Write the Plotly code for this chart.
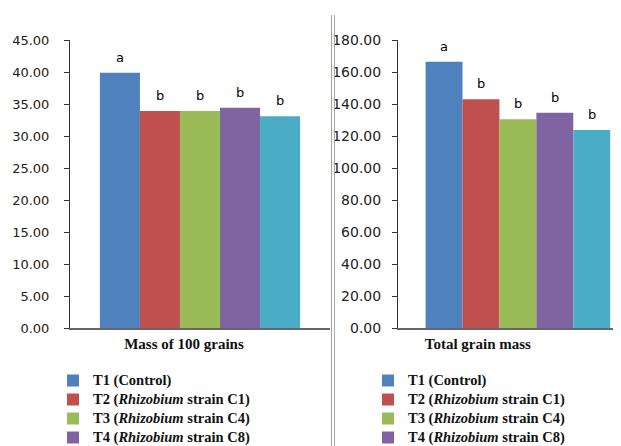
import plotly.graph_objects as go

# ---- data ----
treatments = [
    "T1 (Control)",
    "T2 (<i>Rhizobium</i> strain C1)",
    "T3 (<i>Rhizobium</i> strain C4)",
    "T4 (<i>Rhizobium</i> strain C8)",
    "T5",
]
mass_100 = [39.9, 33.9, 33.9, 34.4, 33.1]
total_mass = [166.4, 142.9, 130.4, 134.6, 123.8]
letters_100 = ["a", "b", "b", "b", "b"]
letters_total = ["a", "b", "b", "b", "b"]
cat_left = ["Mass of 100 grains"]
cat_right = ["Total grain mass"]
colors = ["#4F81BD", "#C0504D", "#9BBB59", "#8064A2", "#4BACC6"]

# page is 621x446; the html body has an 8px margin, so the figure is 613x438
OFF = 8
W, H = 621 - OFF, 446 - OFF
BARGAP = 0.23

def px_x(p):
    return (p - OFF) / W

def px_y(p):
    return 1 - (p - OFF) / H

def leg_label(t):
    return "<span style='font-size:14.5px'>" + t + "</span>"

fig = go.Figure()
for i, name in enumerate(treatments):
    show = i < 4
    fig.add_trace(go.Bar(x=cat_left, y=[mass_100[i]], name=leg_label(name), marker_color=colors[i],
                         marker_line_width=0, xaxis="x", yaxis="y",
                         showlegend=show, legend="legend", legendgroup="L" + str(i)))
for i, name in enumerate(treatments):
    show = i < 4
    fig.add_trace(go.Bar(x=cat_right, y=[total_mass[i]], name=leg_label(name), marker_color=colors[i],
                         marker_line_width=0, xaxis="x2", yaxis="y2",
                         showlegend=show, legend="legend2", legendgroup="R" + str(i)))

# significance letters above each bar
n = len(treatments)
annotations = []
for i in range(n):
    off = (-0.5 + (i + 0.5) / n) * (1 - BARGAP)
    annotations.append(dict(x=off, y=mass_100[i], xref="x", yref="y", text=letters_100[i],
                            showarrow=False, yanchor="bottom", yshift=6,
                            font=dict(family="DejaVu Sans", size=13, color="#000")))
    annotations.append(dict(x=off, y=total_mass[i], xref="x2", yref="y2", text=letters_total[i],
                            showarrow=False, yanchor="bottom", yshift=6,
                            font=dict(family="DejaVu Sans", size=13, color="#000")))

ydom = [px_y(328), px_y(40)]
tickfont_l = dict(family="DejaVu Sans", size=13, color="#222")
tickfont_r = dict(family="DejaVu Sans", size=14, color="#222")
catfont = dict(family="Liberation Serif", size=15, color="#111", weight="bold")
legfont = dict(family="Liberation Serif", size=12, color="#111", weight="bold")

fig.update_layout(
    width=W, height=H,
    margin=dict(l=0, r=0, t=0, b=0, autoexpand=False),
    paper_bgcolor="white", plot_bgcolor="white",
    barmode="group", bargap=BARGAP, bargroupgap=0,
    xaxis=dict(domain=[px_x(70), px_x(330)], range=[-0.5, 0.5], type="category",
               showline=True, linecolor="#666", linewidth=2, ticks="",
               tickfont=catfont, ticklabelshift=-16, ticklabelstandoff=1,
               showgrid=False, zeroline=False, automargin=False),
    yaxis=dict(domain=ydom, range=[0, 45], dtick=5, tickformat=".2f",
               showline=True, linecolor="#333", linewidth=1, ticks="outside",
               ticklen=5, tickcolor="#333", tickfont=tickfont_l, ticklabelstandoff=12,
               showgrid=False, zeroline=False, automargin=False),
    xaxis2=dict(domain=[px_x(398), 1], range=[-0.5, 0.43], type="category",
                showline=True, linecolor="#666", linewidth=2, ticks="",
                tickfont=catfont, ticklabelshift=-40, ticklabelstandoff=1,
                showgrid=False, zeroline=False, anchor="y2", automargin=False),
    yaxis2=dict(domain=ydom, range=[0, 180], dtick=20, tickformat=".2f",
                showline=True, linecolor="#333", linewidth=1, ticks="outside",
                ticklen=5, tickcolor="#333", tickfont=tickfont_r, ticklabelstandoff=8,
                showgrid=False, zeroline=False, anchor="x2", automargin=False),
    legend=dict(xref="container", yref="container", x=px_x(53), y=px_y(366),
                xanchor="left", yanchor="top",
                font=legfont, itemwidth=30, bgcolor="rgba(0,0,0,0)", tracegroupgap=0),
    legend2=dict(xref="container", yref="container", x=px_x(368), y=px_y(366),
                 xanchor="left", yanchor="top",
                 font=legfont, itemwidth=30, bgcolor="rgba(0,0,0,0)", tracegroupgap=0),
    annotations=annotations,
    shapes=[
        dict(type="line", xref="paper", yref="paper", x0=px_x(331.5), x1=px_x(331.5),
             y0=0, y1=px_y(15), line=dict(color="#A6A6A6", width=1)),
        dict(type="line", xref="paper", yref="paper", x0=px_x(334.5), x1=px_x(334.5),
             y0=0, y1=px_y(15), line=dict(color="#A6A6A6", width=1)),
    ],
    showlegend=True,
)

fig.write_html("out.html")
